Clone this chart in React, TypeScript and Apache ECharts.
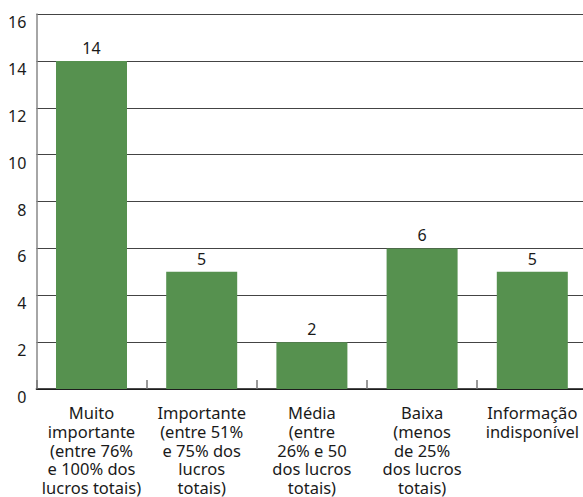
import React, { useEffect, useRef } from "react";
import * as echarts from "echarts";

const categories = [
  "Muito\nimportante\n(entre 76%\ne 100% dos\nlucros totais)",
  "Importante\n(entre 51%\ne 75% dos\nlucros\ntotais)",
  "Média\n(entre\n26% e 50\ndos lucros\ntotais)",
  "Baixa\n(menos\nde 25%\ndos lucros\ntotais)",
  "Informação\nindisponível",
];
const values = [14, 5, 2, 6, 5];
const yTicks = { min: 0, max: 16, interval: 2 };

export default function App() {
  const ref = useRef<HTMLDivElement>(null);
  useEffect(() => {
    if (!ref.current) return;
    const chart = echarts.init(ref.current, null, { renderer: "svg" });
    const font = "'Noto Sans', 'Open Sans', sans-serif";
    chart.setOption({
      animation: false,
      grid: {
        left: 36.4,
        top: 14,
        width: 551,
        height: 375,
        containLabel: false,
        outerBoundsMode: "none",
      },
      xAxis: {
        type: "category",
        data: categories,
        axisLine: { show: true, lineStyle: { color: "#111", width: 1.5 } },
        axisTick: { show: true, inside: true, length: 9, lineStyle: { color: "#777", width: 1.5 } },
        axisLabel: {
          interval: 0,
          margin: 14.5,
          color: "#1a1a1a",
          fontSize: 16.5,
          lineHeight: 18.7,
          fontFamily: font,
          align: "center",
        },
      },
      yAxis: {
        type: "value",
        min: yTicks.min,
        max: yTicks.max,
        interval: yTicks.interval,
        axisLine: { show: true, lineStyle: { color: "#888", width: 1.5 } },
        axisTick: { show: false },
        splitLine: { show: true, lineStyle: { color: "#444", width: 1.2 } },
        axisLabel: {
          margin: 10,
          color: "#1a1a1a",
          fontSize: 16,
          fontFamily: font,
          verticalAlign: "top",
        },
      },
      series: [
        {
          type: "bar",
          data: values,
          barWidth: 71,
          itemStyle: { color: "#56914f" },
          label: {
            show: true,
            position: "top",
            distance: 5,
            color: "#1a1a1a",
            fontSize: 16,
            fontFamily: font,
          },
        },
      ],
    });
    return () => chart.dispose();
  }, []);
  return (
    <div
      ref={ref}
      style={{ position: "absolute", left: 0, top: 0, width: 583, height: 497, background: "#fff" }}
    />
  );
}
